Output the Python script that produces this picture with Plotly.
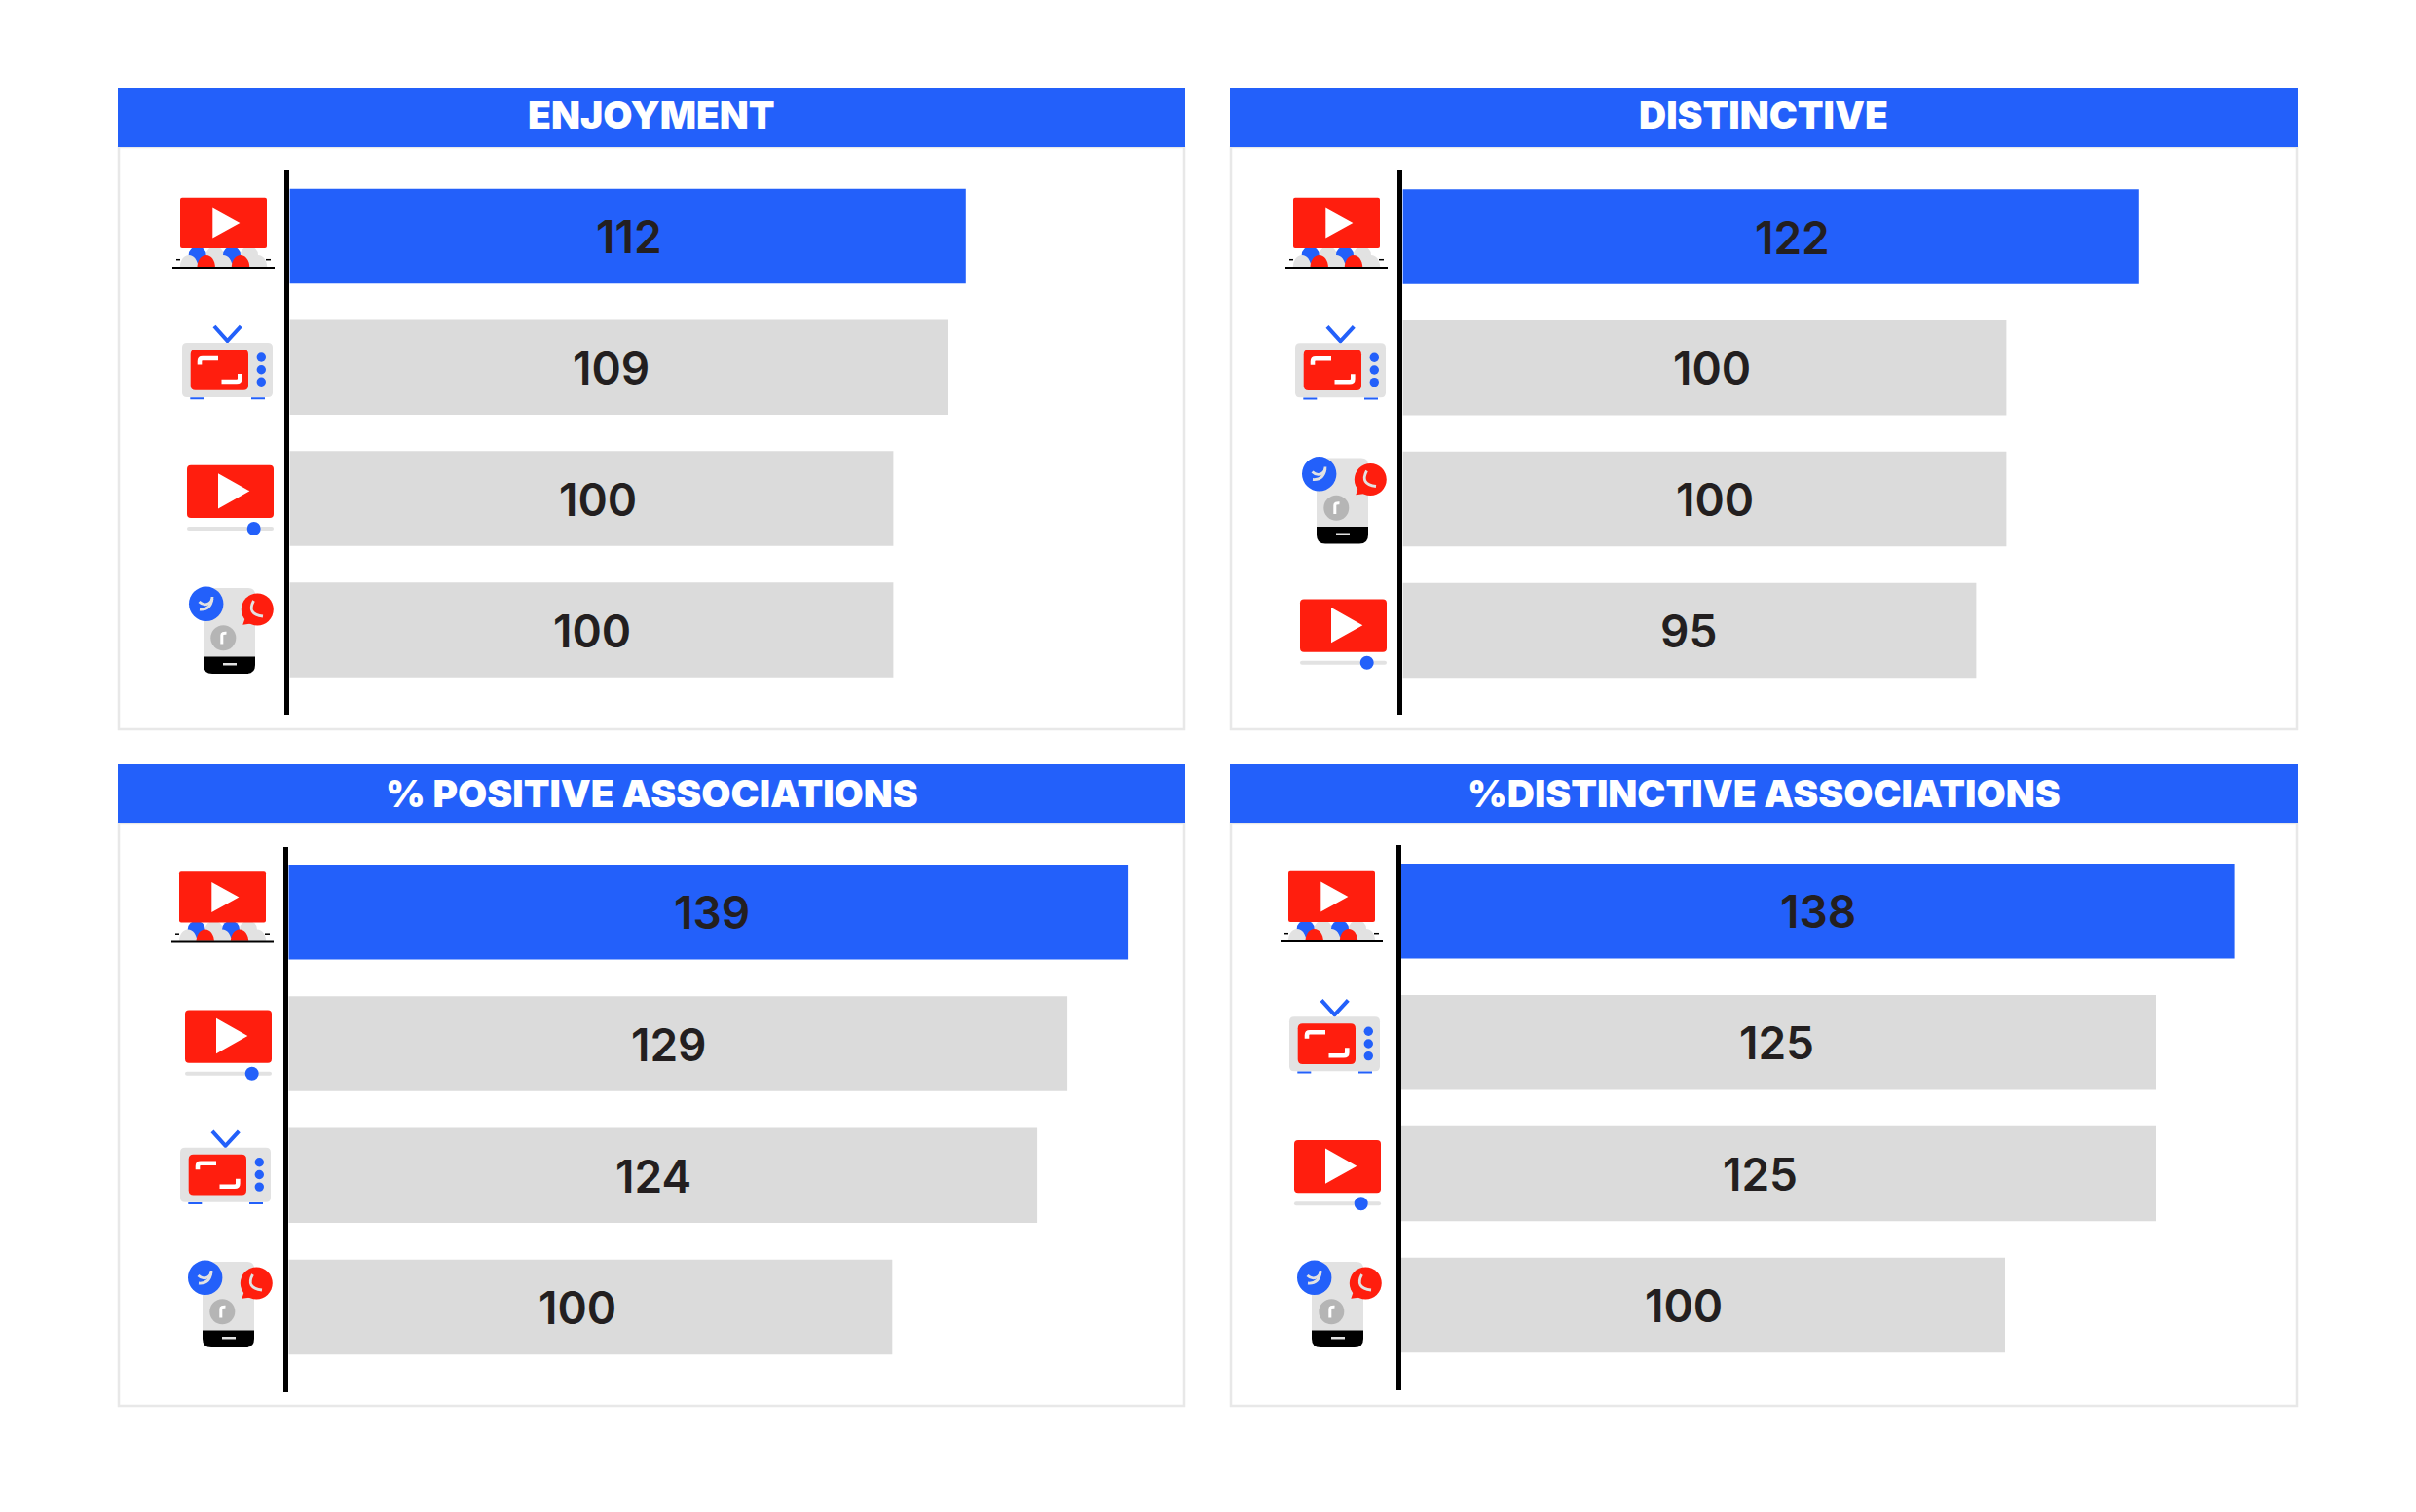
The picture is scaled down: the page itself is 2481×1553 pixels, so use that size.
import plotly.graph_objects as go

W, H = 2481, 1553

# ---------- data ----------
titles = ["ENJOYMENT", "DISTINCTIVE", "% POSITIVE ASSOCIATIONS", "%DISTINCTIVE ASSOCIATIONS"]
cats_enjoyment = ["Cinema", "TV", "Online video", "Social media"]
vals_enjoyment = [112, 109, 100, 100]
cats_distinctive = ["Cinema", "TV", "Social media", "Online video"]
vals_distinctive = [122, 100, 100, 95]
cats_positive = ["Cinema", "Online video", "TV", "Social media"]
vals_positive = [139, 129, 124, 100]
cats_dist_assoc = ["Cinema", "TV", "Online video", "Social media"]
vals_dist_assoc = [138, 125, 125, 100]

# ---------- style / layout ----------
BLUE, RED, GREY, ICON_GREY, FRAME = "#2360fa", "#ff1e0e", "#dbdbdb", "#e2e2e2", "#e8e8e8"
TEXT = "#231f20"
TITLE_FONT = dict(family="Inter", size=39, color="white", weight=900)
LABEL_FONT = dict(family="Inter", size=46, color=TEXT, weight=600)
PX_PER_UNIT = 6.2
BAR_PX = 97.5

panels = [
    dict(cats=cats_enjoyment, vals=vals_enjoyment, box=(121, 90, 1217, 151, 749), title_dy=-2.5,
         left=297.4, ytop=175.0, ybot=734.0, c0=242.5, pitch=134.8,
         labels=[646, 627, 614, 608],
         icons={"Cinema": (0, 0), "TV": (0, 0), "Online video": (0, 0), "Social media": (0, 0)}),
    dict(cats=cats_distinctive, vals=vals_distinctive, box=(1263, 90, 2360, 151, 749), title_dy=-2.5,
         left=1440.4, ytop=175.3, ybot=734.0, c0=243.0, pitch=134.8,
         labels=[1840, 1758, 1761, 1734],
         icons={"Cinema": (1143, 0), "TV": (1143, 0.3), "Social media": (1143, -133.5), "Online video": (1143, 137.8)}),
    dict(cats=cats_positive, vals=vals_positive, box=(121, 785, 1217, 845, 1444), title_dy=-1,
         left=296.3, ytop=869.6, ybot=1429.7, c0=936.8, pitch=135.2,
         labels=[731, 687, 671, 593],
         icons={"Cinema": (-1, 692.5), "Online video": (-2, 559.7), "TV": (-2, 826.8), "Social media": (-1, 692)}),
    dict(cats=cats_dist_assoc, vals=vals_dist_assoc, box=(1263, 785, 2360, 845, 1444), title_dy=-1,
         left=1439.0, ytop=868.4, ybot=1427.8, c0=935.8, pitch=134.9,
         labels=[1867, 1824, 1807, 1729],
         icons={"Cinema": (1138, 692), "TV": (1137, 692.3), "Online video": (1137, 693.3), "Social media": (1138, 692)}),
]
LABEL_DY = 0.6


def px(x):
    return x / W


def py(y):
    return 1 - y / H


shapes = []


def path(points, fill=None, line=None, lw=0, layer="above"):
    """points: list of commands, each ('M', x, y), ('L', x, y), ('Q', cx, cy, x, y), ('C', ...), ('Z',)"""
    parts = []
    for c in points:
        if c[0] == "Z":
            parts.append("Z")
            continue
        coords = []
        for i, v in enumerate(c[1:]):
            coords.append(f"{px(v) if i % 2 == 0 else py(v):.6f}")
        parts.append(c[0] + " " + " ".join(coords))
    s = dict(type="path", path=" ".join(parts), xref="paper", yref="paper", layer=layer,
             line=dict(width=lw, color=line or "rgba(0,0,0,0)"))
    if fill:
        s["fillcolor"] = fill
    shapes.append(s)


def shift(points, dx, dy):
    out = []
    for c in points:
        vals = [v + (dx if i % 2 == 0 else dy) for i, v in enumerate(c[1:])]
        out.append((c[0], *vals))
    return out


def rrect(x0, y0, x1, y1, r, fill, dx, dy, corners=(1, 1, 1, 1)):
    x0, x1, y0, y1 = x0 + dx, x1 + dx, y0 + dy, y1 + dy
    tl, tr, br, bl = [r * c for c in corners]
    path([("M", x0 + tl, y0), ("L", x1 - tr, y0), ("Q", x1, y0, x1, y0 + tr),
          ("L", x1, y1 - br), ("Q", x1, y1, x1 - br, y1), ("L", x0 + bl, y1),
          ("Q", x0, y1, x0, y1 - bl), ("L", x0, y0 + tl), ("Q", x0, y0, x0 + tl, y0), ("Z",)], fill=fill)


def circle(cx, cy, rx, ry, fill, dx, dy):
    shapes.append(dict(type="circle", xref="paper", yref="paper",
                       x0=px(cx - rx + dx), x1=px(cx + rx + dx), y0=py(cy + ry + dy), y1=py(cy - ry + dy),
                       fillcolor=fill, line=dict(width=0)))


def stroke(points, color, lw, dx, dy):
    path(shift(points, dx, dy), line=color, lw=lw)


def tri(x0, y0, y1, x1, dx, dy):
    ym = (y0 + y1) / 2
    pts = [("M", x0 + 1.5, y0 + 2), ("L", x1 - 2, ym), ("L", x0 + 1.5, y1 - 2), ("Z",)]
    path(shift(pts, dx, dy), fill="white", line="white", lw=3)


def dome(cx, top, bottom, rx, fill, dx, dy):
    h = bottom - top
    k = 0.55
    pts = [("M", cx - rx, bottom),
           ("C", cx - rx, bottom - k * h, cx - k * rx, top, cx, top),
           ("C", cx + k * rx, top, cx + rx, bottom - k * h, cx + rx, bottom), ("Z",)]
    path(shift(pts, dx, dy), fill=fill)


def icon_cinema(dx, dy):
    for cx, col in [(220.7, ICON_GREY), (256, ICON_GREY), (202.7, BLUE), (238, BLUE)]:
        circle(cx, 262, 9, 8.7, col, dx, dy)
    rrect(185, 202.7, 274, 255, 2, RED, dx, dy)
    tri(218.3, 214, 244, 245.3, dx, dy)
    stroke([("M", 181, 266.7), ("L", 185, 266.7)], "black", 1.5, dx, dy)
    stroke([("M", 273, 266.7), ("L", 278, 266.7)], "black", 1.5, dx, dy)
    for cx, col in [(194, ICON_GREY), (229.3, ICON_GREY), (265, ICON_GREY), (211.7, RED), (247, RED)]:
        dome(cx, 262, 274.2, 9.2, col, dx, dy)
    stroke([("M", 177, 275), ("L", 282, 275)], "black", 2, dx, dy)


def icon_tv(dx, dy):
    stroke([("M", 220, 335), ("L", 233.5, 350), ("L", 247.3, 335)], BLUE, 4, dx, dy)
    rrect(187, 352, 280, 408, 5, ICON_GREY, dx, dy)
    rrect(195.7, 359, 255, 400.7, 5, RED, dx, dy)
    stroke([("M", 224, 368), ("L", 208, 368), ("Q", 205, 368, 205, 371), ("L", 205, 374.5)], "white", 4.6, dx, dy)
    stroke([("M", 227.5, 392), ("L", 243, 392), ("Q", 246.3, 392, 246.3, 389), ("L", 246.3, 384)], "white", 4.6, dx, dy)
    for cy in (367, 379.7, 392.3):
        circle(268.3, cy, 4.7, 4.7, BLUE, dx, dy)
    rrect(195.3, 408.2, 209.3, 410.2, 0, BLUE, dx, dy)
    rrect(258, 408.2, 272, 410.2, 0, BLUE, dx, dy)


def icon_online(dx, dy):
    rrect(192, 477.7, 281, 532, 4, RED, dx, dy)
    tri(224, 486.7, 522, 255.3, dx, dy)
    rrect(192, 541, 281, 545, 2, ICON_GREY, dx, dy)
    circle(260.7, 543, 7, 7, BLUE, dx, dy)


def icon_social(dx, dy):
    rrect(209, 604, 262, 675, 7, ICON_GREY, dx, dy, corners=(0, 1, 0, 0))
    rrect(209, 674.5, 262, 692, 9, "black", dx, dy, corners=(0, 0, 1, 1))
    rrect(229, 681, 243, 683.5, 0, ICON_GREY, dx, dy)
    circle(229.3, 655.3, 13, 13, "#b5b5b5", dx, dy)
    stroke([("M", 227.8, 661.5), ("L", 227.8, 652.5), ("Q", 227.8, 650, 232.5, 650.3)], "white", 3, dx, dy)
    circle(211.7, 620.3, 17.7, 17.7, BLUE, dx, dy)
    stroke([("M", 204.5, 618), ("Q", 209, 622.5, 214, 620), ("Q", 218, 618, 218, 613)], ICON_GREY, 2.8, dx, dy)
    stroke([("M", 205, 626), ("Q", 216, 627, 218, 615)], ICON_GREY, 2.8, dx, dy)
    path(shift([("M", 252, 634), ("L", 249.3, 641.7), ("L", 259, 640.5), ("Z",)], dx, dy), fill=RED)
    circle(264.3, 626, 16.5, 16.5, RED, dx, dy)
    stroke([("M", 260.5, 617), ("Q", 253, 631, 270, 633)], ICON_GREY, 2.8, dx, dy)


ICONS = {"Cinema": icon_cinema, "TV": icon_tv, "Online video": icon_online, "Social media": icon_social}

fig = go.Figure()
annotations = []
layout_axes = {}

for i, (p, title) in enumerate(zip(panels, titles), start=1):
    xname, yname = f"xaxis{i if i > 1 else ''}", f"yaxis{i if i > 1 else ''}"
    xa, ya = f"x{i if i > 1 else ''}", f"y{i if i > 1 else ''}"
    x0, top, x1, hdr, bottom = p["box"]
    right = x1 - 10
    colors = [BLUE if k == 0 else GREY for k in range(len(p["vals"]))]

    fig.add_trace(go.Bar(y=p["cats"], x=p["vals"], orientation="h", xaxis=xa, yaxis=ya,
                         marker=dict(color=colors, line=dict(width=0)),
                         width=BAR_PX / p["pitch"], showlegend=False, hoverinfo="x+y"))

    layout_axes[xname] = dict(domain=[px(p["left"]), px(right)],
                              range=[0, (right - p["left"]) / PX_PER_UNIT],
                              visible=False, anchor=ya, fixedrange=True)
    layout_axes[yname] = dict(domain=[py(p["ybot"]), py(p["ytop"])],
                              type="category", categoryorder="array", categoryarray=p["cats"],
                              range=[(p["ybot"] - p["c0"]) / p["pitch"], (p["ytop"] - p["c0"]) / p["pitch"]],
                              showline=True, linecolor="black", linewidth=4.5, showticklabels=False,
                              ticks="", showgrid=False, zeroline=False, anchor=xa, fixedrange=True)

    shapes.append(dict(type="rect", xref="paper", yref="paper", layer="below",
                       x0=px(x0 + 1), x1=px(x1 - 1), y0=py(bottom), y1=py(hdr),
                       line=dict(color=FRAME, width=2.5), fillcolor="white"))
    shapes.append(dict(type="rect", xref="paper", yref="paper", layer="below",
                       x0=px(x0), x1=px(x1), y0=py(hdr), y1=py(top),
                       line=dict(width=0), fillcolor=BLUE))
    annotations.append(dict(text=title, xref="paper", yref="paper", showarrow=False,
                            x=px((x0 + x1) / 2), y=py((top + hdr) / 2 + p["title_dy"]),
                            xanchor="center", yanchor="middle", font=TITLE_FONT))
    for k, (cat, v, lx) in enumerate(zip(p["cats"], p["vals"], p["labels"])):
        annotations.append(dict(text=str(v), xref="paper", yref="paper", showarrow=False,
                                x=px(lx), y=py(p["c0"] + k * p["pitch"] + LABEL_DY),
                                xanchor="center", yanchor="middle", font=LABEL_FONT))
        ICONS[cat](*p["icons"][cat])

fig.update_layout(width=W, height=H, margin=dict(l=0, r=0, t=0, b=0, autoexpand=False),
                  paper_bgcolor="white", plot_bgcolor="rgba(0,0,0,0)", showlegend=False,
                  shapes=shapes, annotations=annotations, **layout_axes)

fig.write_html("out.html", post_script="document.body.style.margin='0';document.body.style.overflow='hidden';",
               config=dict(displayModeBar=False))
